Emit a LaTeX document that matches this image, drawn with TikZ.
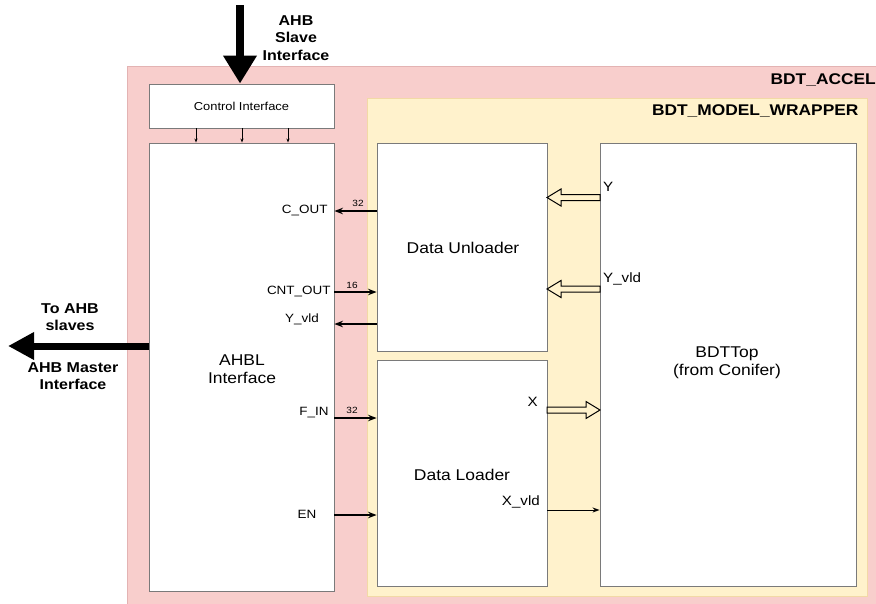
\documentclass[tikz,border=0pt]{standalone}
\usepackage{fontspec}
\setmainfont{Liberation Sans}[FakeStretch=1.12]
\usetikzlibrary{arrows.meta}
\definecolor{accelfill}{HTML}{F8CECC}
\definecolor{accelline}{HTML}{E3B3B3}
\definecolor{wrapfill}{HTML}{FFF2CC}
\definecolor{wrapline}{HTML}{F2D9A6}
\definecolor{boxline}{HTML}{7A7A7A}
\tikzset{
  block/.style={draw=boxline, fill=white, line width=0.9pt},
  blocktext/.style={font=\fontsize{15.6}{18}\selectfont, align=center},
  title/.style={font=\fontsize{15.5}{18}\selectfont\bfseries, anchor=east},
  extlabel/.style={font=\fontsize{14.3}{16.5}\selectfont\bfseries, align=center},
  port/.style={font=\fontsize{12}{14}\selectfont},
  modelport/.style={font=\fontsize{13.5}{15}\selectfont},
  width/.style={font=\fontsize{9}{10}\selectfont},
  sig/.style={line width=1.3pt, -{Stealth[length=8.5pt,width=6.5pt]}},
  ctl/.style={line width=0.7pt, -{Stealth[length=4pt,width=3pt]}},
  bus/.style={line width=8pt, -{Triangle[length=28pt,width=32pt]}},
  hollow/.style={draw=black, fill=wrapfill, line width=1pt, line join=miter}
}
\begin{document}
\begin{tikzpicture}[x=1pt,y=-1pt]
\useasboundingbox (0,0) rectangle (876,603);

% outer accelerator and model wrapper
\path[fill=accelfill, draw=accelline, line width=1pt] (127,66) rectangle (880,607);
\node[title, inner sep=1pt] at (877,80) {BDT\_ACCEL};
\path[fill=wrapfill, draw=wrapline, line width=1pt] (367,98) rectangle (867,596);
\node[title] at (862,111) {BDT\_MODEL\_WRAPPER};

% blocks
\node[block, minimum width=185pt, minimum height=44pt, font=\fontsize{11.5}{13}\selectfont] (ctrl) at (241.5,106) {Control Interface};
\node[block, minimum width=185pt, minimum height=448pt] (ahbl) at (241.5,367) {};
\node[blocktext] at (242,369.5) {AHBL\\Interface};
\node[block, minimum width=170pt, minimum height=208pt] (unl) at (462,247) {};
\node[blocktext] at (463,248) {Data Unloader};
\node[block, minimum width=170pt, minimum height=226pt] (ldr) at (462,473) {};
\node[blocktext] at (462,475) {Data Loader};
\node[block, minimum width=256pt, minimum height=443pt] (top) at (728,364.5) {};
\node[blocktext] at (727,363) {BDTTop\\(from Conifer)};

% control interface to AHBL
\foreach \px in {196,242,288}
  \draw[ctl] (ctrl.south -| \px,0) -- (ahbl.north -| \px,0);

% AHB slave bus into the control interface
\coordinate (slvtop) at (240,5);
\draw[bus] (slvtop) -- (ctrl.north -| slvtop);
\node[extlabel, font=\fontsize{14.3}{17.5}\selectfont\bfseries] at (296,38) {AHB\\Slave\\Interface};

% AHB master bus out of the AHBL interface
\coordinate (mstend) at (8,346);
\draw[bus, -{Triangle[length=26pt,width=26pt]}, line width=7pt] (ahbl.west |- mstend) -- (mstend);
\node[extlabel] at (70,317) {To AHB\\slaves};
\node[extlabel] at (73,376) {AHB Master\\Interface};

% AHBL <-> unloader / loader
\draw[sig] (unl.west |- 0,211) -- (ahbl.east |- 0,211);
\node[width] at (358,203) {32};
\node[port, anchor=east] at (331,210) {C\_OUT};
\draw[sig] (ahbl.east |- 0,292) -- (unl.west |- 0,292);
\node[width] at (352,285) {16};
\node[port, anchor=east] at (334,291) {CNT\_OUT};
\draw[sig] (unl.west |- 0,324) -- (ahbl.east |- 0,324);
\node[port] at (302,319) {Y\_vld};
\draw[sig] (ahbl.east |- 0,418) -- (ldr.west |- 0,418);
\node[width] at (352,410) {32};
\node[port] at (314,413) {F\_IN};
\draw[sig] (ahbl.east |- 0,515) -- (ldr.west |- 0,515);
\node[port] at (307,514) {EN};

% wide data paths between the model and the loaders
\newcommand{\hollowleft}[2]{% tip x, centre y
  \path[hollow] (#1,#2) -- ++(14,-8.5) -- ++(0,5.5) -- (600,#2-3) -- (600,#2+3) -- (#1+14,#2+3) -- ++(0,5.5) -- cycle;}
\hollowleft{547}{197.5}
\node[modelport, anchor=west, inner sep=1pt] at (602,187) {Y};
\hollowleft{547}{289}
\node[modelport, anchor=west, inner sep=1pt] at (602,279) {Y\_vld};
\path[hollow] (600,410) -- ++(-14,-8.5) -- ++(0,5.5) -- (547,407) -- (547,413) -- (586,413) -- ++(0,5.5) -- cycle;
\node[modelport, anchor=east, inner sep=1pt] at (539,402) {X};
\draw[sig, line width=1pt, -{Stealth[length=7pt,width=5pt]}] (ldr.east |- 0,510) -- (top.west |- 0,510);
\node[modelport, anchor=east, inner sep=1pt] at (541,502) {X\_vld};
\end{tikzpicture}
\end{document}
